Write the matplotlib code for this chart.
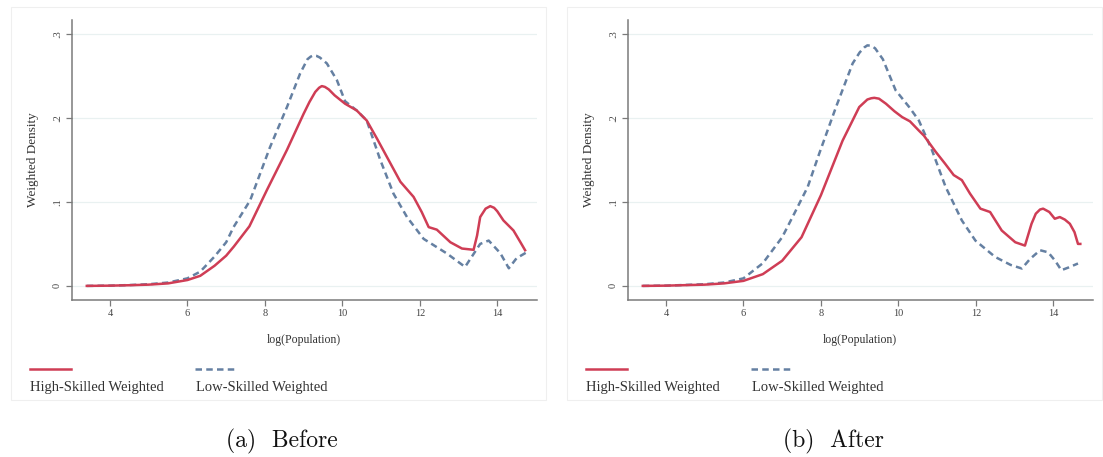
import matplotlib
matplotlib.use("Agg")
import matplotlib.pyplot as plt
from matplotlib.lines import Line2D
from matplotlib.patches import Rectangle

# ---------------- data ----------------
before_high_x = [3.4, 4.0, 4.5, 5.0, 5.5, 6.0, 6.33, 6.7, 7.0, 7.2, 7.6, 8.05, 8.57, 9.0, 9.15, 9.3, 9.4,
                 9.47, 9.55, 9.65, 9.8, 10.07, 10.37, 10.63, 10.9, 11.1, 11.5, 11.84, 12.05, 12.23,
                 12.44, 12.79, 13.09, 13.39, 13.48, 13.56, 13.7, 13.82, 13.92, 14.0, 14.16, 14.42,
                 14.6, 14.72]
before_high_y = [0.0, 0.0003, 0.0008, 0.0015, 0.003, 0.007, 0.012, 0.024, 0.036, 0.047, 0.071, 0.114,
                 0.162, 0.205, 0.219, 0.231, 0.236, 0.238, 0.237, 0.234, 0.227, 0.217, 0.209, 0.197,
                 0.175, 0.158, 0.124, 0.106, 0.088, 0.070, 0.067, 0.052, 0.0445, 0.043, 0.060, 0.082,
                 0.092, 0.095, 0.093, 0.089, 0.078, 0.066, 0.052, 0.0425]
before_low_x = [3.4, 4.0, 4.5, 5.0, 5.5, 6.0, 6.33, 6.7, 7.0, 7.19, 7.62, 8.13, 8.57, 8.91, 9.1, 9.18,
                9.25, 9.33, 9.42, 9.6, 9.86, 10.07, 10.37, 10.63, 10.98, 11.32, 11.67, 12.1, 12.7,
                13.17, 13.56, 13.78, 14.08, 14.3, 14.5, 14.76]
before_low_y = [0.0, 0.0003, 0.001, 0.002, 0.004, 0.009, 0.017, 0.035, 0.052, 0.070, 0.102, 0.165, 0.213,
                0.253, 0.270, 0.273, 0.2746, 0.274, 0.272, 0.265, 0.245, 0.220, 0.209, 0.197, 0.150,
                0.110, 0.082, 0.056, 0.0386, 0.0226, 0.050, 0.054, 0.039, 0.021, 0.033, 0.040]

after_high_x = [3.4, 4.0, 5.0, 5.5, 6.0, 6.5, 7.0, 7.5, 8.0, 8.56, 8.99, 9.2, 9.3, 9.38, 9.5, 9.68,
                9.9, 10.1, 10.3, 10.53, 10.66, 10.96, 11.2, 11.43, 11.64, 11.85, 12.12, 12.37, 12.67,
                13.02, 13.27, 13.44, 13.55, 13.66, 13.74, 13.9, 14.04, 14.17, 14.3, 14.43, 14.55,
                14.64, 14.7]
after_high_y = [0.0, 0.0003, 0.0015, 0.003, 0.006, 0.014, 0.030, 0.058, 0.108, 0.173, 0.213, 0.222,
                0.2235, 0.224, 0.223, 0.217, 0.208, 0.201, 0.196, 0.185, 0.179, 0.160, 0.146, 0.132,
                0.126, 0.110, 0.092, 0.088, 0.066, 0.052, 0.048, 0.074, 0.086, 0.091, 0.092, 0.088,
                0.080, 0.082, 0.079, 0.074, 0.064, 0.050, 0.050]
after_low_x = [3.4, 4.0, 5.0, 5.5, 6.0, 6.5, 7.0, 7.3, 7.66, 7.96, 8.39, 8.82, 9.0, 9.12, 9.2, 9.3,
               9.4, 9.6, 9.93, 10.28, 10.53, 10.87, 11.22, 11.64, 11.99, 12.5, 12.9, 13.19, 13.4,
               13.66, 13.87, 14.05, 14.21, 14.4, 14.64]
after_low_y = [0.0, 0.0003, 0.002, 0.004, 0.009, 0.027, 0.058, 0.085, 0.118, 0.158, 0.213, 0.265,
               0.278, 0.284, 0.2865, 0.286, 0.283, 0.270, 0.233, 0.213, 0.197, 0.1615, 0.118, 0.078,
               0.054, 0.0345, 0.025, 0.0207, 0.032, 0.0425, 0.040, 0.030, 0.0187, 0.022, 0.0267]

x_ticks = [4, 6, 8, 10, 12, 14]
y_ticks = [0, 0.1, 0.2, 0.3]
y_tick_labels = ["0", ".1", ".2", ".3"]
series_labels = ["High-Skilled Weighted", "Low-Skilled Weighted"]
captions = ["(a)  Before", "(b)  After"]
x_label = "log(Population)"
y_label = "Weighted Density"

# ---------------- style ----------------
W, H = 1103, 457
RED = "#cf3d55"
BLUE = "#6580a2"
SERIF = ["Liberation Serif", "DejaVu Serif"]

fig = plt.figure(figsize=(W / 100, H / 100), dpi=100)
fig.patch.set_facecolor("white")

def px(x, y):
    return x / W, 1 - y / H

panels = [
    (before_high_x, before_high_y, before_low_x, before_low_y, 0),
    (after_high_x, after_high_y, after_low_x, after_low_y, 556),
]

for i, (hx, hy, lx, ly, off) in enumerate(panels):
    # panel frame
    fig.add_artist(Rectangle(px(11 + off, 400), 535 / W, (400 - 7) / H,
                             transform=fig.transFigure, fill=False,
                             edgecolor="#efefef", lw=0.8))
    left = (71.7 + off) / W
    bottom = 1 - 299.5 / H
    ax = fig.add_axes([left, bottom, 465 / W, (299.5 - 20) / H])
    ax.set_xlim(3.01, 15.02)
    ax.set_ylim(-0.0162, 0.3167)
    for y in y_ticks:
        ax.axhline(y, color="#e9f1f1", lw=0.9, zorder=0)
    ax.plot(hx, hy, color=RED, lw=1.8, solid_joinstyle="round", zorder=3)
    ax.plot(lx, ly, color=BLUE, lw=1.8, linestyle=(0, (2.6, 1.7)), zorder=2)
    for s in ["top", "right"]:
        ax.spines[s].set_visible(False)
    for s in ["left", "bottom"]:
        ax.spines[s].set_color("#7a7a7a")
        ax.spines[s].set_linewidth(1.1)
    ax.set_xticks(x_ticks)
    ax.set_xticklabels([str(t) for t in x_ticks], fontsize=7.5, family=SERIF, color="#444444")
    ax.set_yticks(y_ticks)
    ax.set_yticklabels(y_tick_labels, fontsize=7.5, family=SERIF, color="#444444",
                       rotation=90, va="center")
    ax.tick_params(axis="both", length=4, width=0.9, color="#7a7a7a", pad=3)
    ax.set_xlabel(x_label, fontsize=8.5, family=SERIF, color="#333333", labelpad=11)
    ax.set_ylabel(y_label, fontsize=9.5, family=SERIF, color="#333333", labelpad=10)

    # legend (Stata style: key above label)
    fig.add_artist(Line2D([(30 + off) / W, (71 + off) / W], [1 - 369 / H] * 2,
                          transform=fig.transFigure, color=RED, lw=1.8))
    fig.add_artist(Line2D([(195 + off) / W, (237 + off) / W], [1 - 369 / H] * 2,
                          transform=fig.transFigure, color=BLUE, lw=1.8,
                          linestyle=(0, (2.6, 1.7))))
    fig.text((30 + off) / W, 1 - 387 / H, series_labels[0], fontsize=10.5, family=SERIF,
             color="#333333", va="center", ha="left")
    fig.text((196 + off) / W, 1 - 387 / H, series_labels[1], fontsize=10.5, family=SERIF,
             color="#333333", va="center", ha="left")

    # caption
    fig.text((282 + off - (5 if i else 0)) / W, 1 - 441 / H, captions[i], fontsize=17,
             family=["cmr10", "DejaVu Serif"], color="#111111", ha="center", va="center")

fig.savefig("out.png", dpi=100, facecolor="white")
